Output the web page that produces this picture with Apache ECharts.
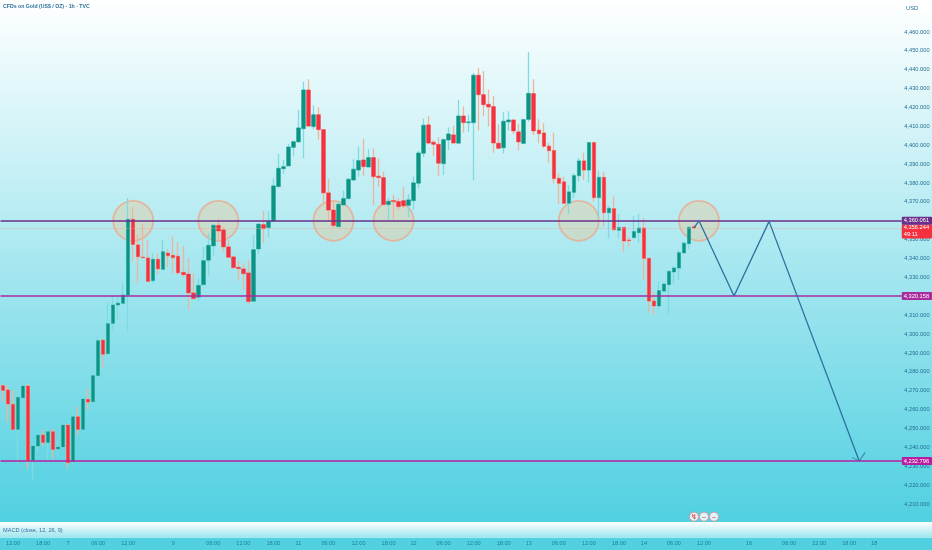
<!DOCTYPE html>
<html><head><meta charset="utf-8">
<style>html,body{margin:0;padding:0;background:#fff}#c{width:932px;height:550px}</style>
<script src="https://cdn.jsdelivr.net/npm/echarts@6/dist/echarts.min.js"></script>
</head><body><div id="c"></div>
<script>
const opens=[4272.7,4270.4,4262.8,4249.5,4266.3,4272.5,4233.1,4240.7,4246.5,4242.6,4248.3,4239.1,4240.2,4251.8,4232.4,4256.2,4249.5,4265.4,4264.2,4278.0,4296.8,4289.6,4305.7,4315.4,4316.3,4320.7,4360.8,4347.2,4340.8,4340.3,4328.3,4339.6,4334.3,4342.9,4341.7,4341.2,4332.7,4331.8,4321.8,4319.5,4326.2,4339.1,4346.7,4357.6,4355.2,4346.2,4340.9,4335.4,4334.5,4332.4,4317.4,4345.1,4358.0,4356.4,4359.9,4378.1,4387.6,4389.1,4398.9,4401.8,4408.8,4429.3,4409.9,4416.2,4408.3,4374.8,4365.7,4356.9,4368.4,4371.8,4381.6,4386.9,4392.2,4388.5,4393.5,4383.6,4382.9,4368.6,4370.7,4370.2,4370.7,4368.2,4370.7,4379.9,4395.8,4410.8,4401.6,4400.5,4390.3,4402.8,4405.5,4401.1,4415.5,4412.0,4412.0,4437.1,4426.8,4421.7,4420.5,4401.1,4398.7,4412.4,4413.4,4407.1,4401.0,4413.7,4427.4,4408.0,4406.5,4399.5,4397.2,4382.5,4380.6,4369.3,4375.1,4383.9,4391.7,4386.9,4401.4,4372.3,4383.0,4364.3,4366.4,4355.0,4356.5,4349.8,4351.1,4353.7,4356.2,4340.1,4317.5,4314.9,4322.8,4326.2,4332.9,4335.0,4343.0,4347.9,4356.9];
const closes=[4270.2,4263.0,4249.5,4266.5,4272.5,4232.9,4240.7,4246.5,4242.6,4248.3,4238.9,4240.2,4251.8,4231.9,4256.2,4249.5,4265.6,4264.0,4278.0,4296.5,4289.3,4305.5,4315.4,4316.4,4320.7,4360.8,4347.5,4341.0,4340.5,4327.9,4339.6,4334.6,4343.6,4341.5,4340.5,4332.5,4331.5,4321.8,4318.8,4325.8,4338.9,4347.0,4357.6,4354.6,4346.2,4340.7,4335.2,4334.7,4332.0,4317.2,4344.7,4358.2,4355.9,4359.6,4378.5,4387.8,4388.7,4399.1,4401.9,4409.2,4429.3,4410.2,4416.2,4408.3,4374.8,4365.7,4357.5,4368.8,4371.8,4382.0,4387.3,4391.9,4388.7,4393.5,4383.4,4382.9,4368.6,4370.3,4370.2,4367.5,4367.9,4371.1,4380.1,4395.9,4410.6,4401.2,4400.5,4390.5,4403.0,4406.0,4401.2,4415.5,4412.0,4412.4,4437.1,4426.8,4421.5,4420.3,4401.2,4398.4,4412.7,4413.4,4407.6,4401.8,4413.6,4427.5,4407.6,4406.2,4399.5,4397.2,4382.4,4379.9,4369.3,4375.3,4383.9,4391.7,4386.9,4401.4,4372.3,4383.0,4364.3,4366.6,4355.3,4356.4,4349.3,4349.5,4354.3,4356.2,4340.1,4317.5,4314.9,4323.0,4326.5,4333.2,4335.0,4343.1,4348.1,4356.5,4356.244];
const lows=[4264.2,4253.6,4249.2,4231.5,4259.8,4228.7,4223.0,4237.7,4240.4,4232.9,4234.0,4234.7,4239.5,4228.9,4231.2,4246.4,4249.2,4259.8,4261.2,4277.8,4282.2,4289.4,4301.8,4307.4,4315.9,4300.7,4338.7,4327.2,4340.1,4327.6,4326.9,4331.8,4333.9,4335.2,4332.2,4331.5,4330.0,4312.8,4318.4,4317.2,4325.8,4331.0,4341.4,4349.9,4343.7,4340.1,4334.7,4328.3,4323.4,4316.0,4317.0,4342.4,4348.4,4351.3,4359.6,4377.8,4384.8,4388.7,4394.0,4401.4,4393.1,4409.9,4408.5,4403.0,4368.9,4359.6,4356.0,4356.6,4368.0,4371.4,4381.3,4383.4,4383.8,4388.3,4368.4,4378.1,4368.4,4360.5,4360.8,4365.8,4366.6,4361.9,4365.8,4377.2,4393.7,4400.5,4394.4,4383.8,4384.3,4397.5,4401.1,4400.9,4406.7,4407.2,4381.3,4407.8,4415.5,4409.9,4396.1,4398.1,4395.6,4407.8,4406.0,4397.2,4400.9,4412.5,4405.5,4401.1,4398.4,4390.8,4379.9,4368.7,4368.9,4363.6,4372.1,4380.7,4381.6,4380.2,4370.1,4361.8,4356.9,4350.7,4354.8,4350.5,4343.5,4346.3,4350.7,4348.4,4328.7,4311.5,4310.3,4312.8,4322.3,4310.1,4326.5,4328.7,4342.8,4345.1,4356.0];
const highs=[4273.4,4272.8,4270.4,4273.9,4274.8,4273.9,4242.6,4247.8,4249.2,4251.3,4250.1,4243.5,4252.7,4252.4,4258.7,4261.5,4265.8,4270.9,4279.5,4299.0,4297.2,4316.6,4320.5,4320.2,4327.2,4372.1,4367.1,4352.5,4358.3,4349.8,4342.8,4342.8,4349.8,4344.9,4351.6,4348.6,4346.6,4340.1,4332.2,4329.5,4346.3,4353.4,4358.7,4361.3,4356.9,4349.9,4341.0,4338.7,4337.5,4339.3,4352.5,4358.7,4365.2,4365.2,4382.5,4395.4,4392.2,4400.7,4402.5,4418.7,4433.7,4435.0,4421.2,4420.1,4408.5,4382.2,4370.2,4370.2,4376.0,4382.5,4392.6,4399.3,4403.5,4397.9,4398.4,4393.1,4386.1,4371.9,4373.7,4371.9,4377.8,4374.2,4383.4,4397.0,4414.1,4415.5,4402.8,4404.2,4403.7,4409.5,4410.3,4424.0,4420.5,4416.1,4438.1,4441.0,4439.4,4429.6,4426.1,4411.1,4417.5,4418.0,4413.8,4411.3,4414.1,4449.4,4435.0,4413.8,4411.7,4401.4,4406.7,4385.1,4383.4,4379.0,4385.1,4393.1,4396.1,4401.6,4401.6,4386.6,4386.0,4367.8,4372.8,4363.3,4356.9,4351.6,4362.6,4363.6,4361.5,4340.3,4322.1,4327.8,4327.2,4333.6,4336.1,4344.5,4349.0,4357.3,4358.0];

const tickIndex=[2,8,13,19,25,34,42,48,54,59,65,71,77,82,88,94,100,105,111,117,123,128,134,140,149,157,163,169,174];
const tickLabels=['12:00','18:00','7','06:00','12:00','9','06:00','12:00','18:00','11','06:00','12:00','18:00','12','06:00','12:00','18:00','13','06:00','12:00','18:00','14','06:00','12:00','16','06:00','12:00','18:00','18'];
const slotCount=180;

const levelPrices=[4360.061,4320.158,4232.796];
const lastPrice=4356.244;
const countdown='49:11';
const circleIndex=[26,43,66,78,115,139];
const circlePrice=[4360,4360,4360,4360,4360,4360];
const forecastIndex=[138,139,146,153,171];
const forecastPrice=[4356.2,4360,4320.2,4359.7,4232.8];
const iconIndex=[138,140,142];
const iconPrice=[4203.3,4203.3,4203.3];

const categories=Array.from({length:slotCount},()=> '');
tickIndex.forEach((k,n)=>{categories[k]=tickLabels[n];});
const fmt=v=>v.toLocaleString('en-US',{minimumFractionDigits:3,maximumFractionDigits:3});
const ohlc=opens.map((o,k)=>[o,closes[k],lows[k],highs[k]]);
const bodies=opens.map((o,k)=>[o,closes[k],Math.min(o,closes[k]),Math.max(o,closes[k])]);

const FONT='"Liberation Sans",Arial,sans-serif';
const UP='#0b9483',DOWN='#f5303f';
const chart=echarts.init(document.getElementById('c'),null,{renderer:'canvas'});
const levelColors=['#6a2f88','#a92c9e','#b81fa0'];
chart.setOption({
  animation:false,
  backgroundColor:'#50d0e1',
  graphic:[
    {type:'rect',silent:true,z:-10,shape:{x:0,y:0,width:932,height:522},
     style:{fill:new echarts.graphic.LinearGradient(0,0,0,1,[{offset:0,color:'#ffffff'},{offset:1,color:'#50d0e1'}])}},
    {type:'rect',silent:true,z:-10,shape:{x:0,y:522,width:932,height:15},
     style:{fill:new echarts.graphic.LinearGradient(0,0,0,1,[{offset:0,color:'#ffffff'},{offset:1,color:'#9fe6ee'}])}},
    {type:'rect',silent:true,z:-10,shape:{x:0,y:537,width:932,height:1},style:{fill:'#a8e8f0'}},
    {type:'rect',silent:true,z:20,shape:{x:903,y:3,width:27,height:10,r:2},style:{fill:'rgba(255,255,255,0.9)'}},
    {type:'text',silent:true,z:21,x:906,y:5,style:{text:'USD',fontSize:5.8,fill:'#2a6f96',fontFamily:FONT}},
    {type:'text',silent:true,z:21,x:3,y:527,style:{text:'MACD (close, 12, 26, 9)',fontSize:5.6,fill:'#2f6fa0',fontFamily:FONT}},
    {type:'text',silent:true,z:21,x:3,y:4,style:{text:'CFDs on Gold (US$ / OZ) · 1h · TVC',fontSize:5.2,fontWeight:'bold',fill:'#2a6f9c',fontFamily:FONT}}
  ],
  grid:{left:0.5,top:13.12,width:901.26,height:509.76,outerBoundsMode:'none'},
  xAxis:{type:'category',data:categories,boundaryGap:true,
    axisLine:{show:false},axisTick:{show:false},splitLine:{show:false},
    axisLabel:{show:true,interval:0,margin:17.5,fontSize:5.6,color:'#1f7f97',fontFamily:FONT,hideOverlap:false}},
  yAxis:{type:'value',position:'right',min:4200,max:4470,interval:10,
    axisLine:{show:false},axisTick:{show:false},splitLine:{show:false},
    axisLabel:{margin:2.5,fontSize:5.7,color:'#256f94',fontFamily:FONT,showMinLabel:false,showMaxLabel:false,
      formatter:v=>fmt(v)}},
  series:[
    {name:'circles',type:'scatter',z:1,silent:true,symbol:'circle',symbolSize:40,
     data:circleIndex.map((k,n)=>[k,circlePrice[n]]),
     itemStyle:{color:'rgba(226,205,165,0.6)',borderColor:'#eba98e',borderWidth:1.8}},
    {name:'wicks',type:'candlestick',z:2,silent:true,barWidth:3,data:ohlc,
     itemStyle:{color:'#7edbe2',color0:'#ecb59c',borderColor:'#7edbe2',borderColor0:'#ecb59c',borderWidth:1.3}},
    {name:'bodies',type:'candlestick',z:3,silent:true,barWidth:4,data:bodies,
     itemStyle:{color:UP,color0:DOWN,borderColor:UP,borderColor0:DOWN,borderWidth:0.3}},
    {name:'forecast',type:'line',z:5,silent:true,symbol:'none',
     data:forecastIndex.map((k,n)=>[k,forecastPrice[n]]),
     lineStyle:{color:'#2f6f9f',width:1.3}},
    {name:'arrow',type:'scatter',z:5,silent:true,
     data:[[forecastIndex[4],forecastPrice[4]]],
     symbol:'path://M-7,-3.5 L0,0 L6,-8.5',symbolSize:[13,8.5],symbolOffset:[-0.5,-4.25],
     itemStyle:{color:'rgba(0,0,0,0)',borderColor:'#2f6f9f',borderWidth:1}},
    {name:'levels',type:'line',z:10,silent:true,data:[],
     markLine:{silent:true,symbol:'none',animation:false,
       data:[
        {yAxis:lastPrice,
          lineStyle:{color:'rgba(235,170,150,0.7)',width:1,type:'dotted'},
          label:{show:true,position:'end',distance:0,offset:[0,3.5],formatter:fmt(lastPrice)+'\n'+countdown,color:'#fff',fontSize:5.7,lineHeight:7,fontFamily:FONT,
                 backgroundColor:'#f5303f',padding:[0,3,0,2],borderRadius:1,align:'left'}},
        ...levelPrices.map((p,n)=>({yAxis:p,
          lineStyle:{color:levelColors[n],width:1.6,type:'solid'},
          label:{show:true,position:'end',distance:0,formatter:fmt(p),color:'#fff',fontSize:5.7,fontFamily:FONT,
                 backgroundColor:levelColors[n],padding:[1,3,1,2],borderRadius:1}}))
       ]}},
    {name:'icons',type:'scatter',z:6,silent:true,symbol:'circle',symbolSize:9,
     data:iconIndex.map((k,n)=>[k,iconPrice[n]]),
     itemStyle:{color:'#fff',borderColor:'#e88a90',borderWidth:1},
     label:{show:true,position:'inside',fontSize:7,fontWeight:'bold',color:'#e8303f',fontFamily:FONT,
            formatter:p=>p.dataIndex===0?'↯':'–'}}
  ]
});
</script></body></html>
